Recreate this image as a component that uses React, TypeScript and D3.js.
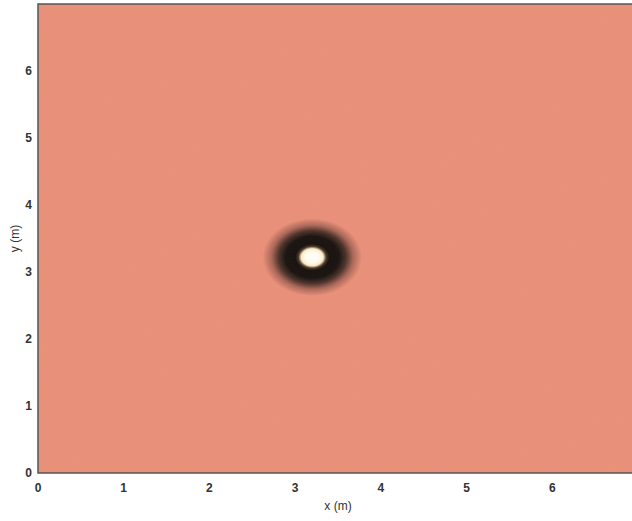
import React from "react";
import * as d3 from "d3";

// Axis domains and tick labels
const xDomain = [0, 7];
const yDomain = [0, 7];
const xTicks = [0, 1, 2, 3, 4, 5, 6];
const yTicks = [0, 1, 2, 3, 4, 5, 6];

// Source (bright spot) centre in metres
const sourceX = [3.2];
const sourceY = [3.22];
// Outer radius of the disturbance (m), and radial intensity profile
const outerRadius = 0.58;
const profileOffsets = [0, 0.14, 0.22, 0.28, 0.34, 0.54, 0.68, 0.82, 1];
const profileColors = ["#ffffff", "#fffdf0", "#fbeec8", "#4a3526", "#140f0b", "#17110d", "#4b3129", "#a96656", "#ea8f78"];

const background = "#ea8f78";

const W = 632, H = 521;
const margin = { left: 38, top: 4, right: -6, bottom: 48 };

export default function App() {
  const x = d3.scaleLinear().domain(xDomain).range([margin.left, W - margin.right]);
  const y = d3.scaleLinear().domain(yDomain).range([H - margin.bottom, margin.top]);
  const rx = x(outerRadius) - x(0);
  const ry = y(0) - y(outerRadius);
  const font = "'Liberation Sans', Arial, sans-serif";
  return (
    <svg width={W} height={H} style={{ position: "absolute", left: 0, top: 0, background: "#fff" }}>
      <defs>
        <radialGradient id="spot" cx="50%" cy="50%" r="50%">
          {profileOffsets.map((o, i) => (
            <stop key={i} offset={o} stopColor={profileColors[i]} />
          ))}
        </radialGradient>
        <clipPath id="plot">
          <rect x={x(xDomain[0])} y={y(yDomain[1])} width={x(xDomain[1]) - x(xDomain[0])} height={y(yDomain[0]) - y(yDomain[1])} />
        </clipPath>
        <filter id="grain" x="0" y="0" width="100%" height="100%">
          <feTurbulence type="fractalNoise" baseFrequency="0.9" numOctaves="2" seed="3" result="n" />
          <feColorMatrix type="matrix" values="0 0 0 0 0.6  0 0 0 0 0.45  0 0 0 0 0.45  0 0 0 0.07 0" />
        </filter>
      </defs>
      <g clipPath="url(#plot)">
        <rect x={x(xDomain[0])} y={y(yDomain[1])} width={x(xDomain[1]) - x(xDomain[0])} height={y(yDomain[0]) - y(yDomain[1])} fill={background} />
        {sourceX.map((sx, i) => (
          <ellipse key={i} cx={x(sx)} cy={y(sourceY[i])} rx={rx} ry={ry} fill="url(#spot)" />
        ))}
        <rect x={x(xDomain[0])} y={y(yDomain[1])} width={x(xDomain[1]) - x(xDomain[0])} height={y(yDomain[0]) - y(yDomain[1])} filter="url(#grain)" />
      </g>
      <rect x={x(xDomain[0])} y={y(yDomain[1])} width={x(xDomain[1]) - x(xDomain[0])} height={y(yDomain[0]) - y(yDomain[1])} fill="none" stroke="#555" strokeWidth={1.5} />
      {xTicks.map((t) => (
        <text key={"x" + t} x={x(t)} y={y(0) + 19} textAnchor="middle" fontFamily={font} fontSize={12} fontWeight="bold" fill="#333">{t}</text>
      ))}
      {yTicks.map((t) => (
        <text key={"y" + t} x={x(0) - 6} y={y(t) + 4} textAnchor="end" fontFamily={font} fontSize={12} fontWeight="bold" fill="#333">{t}</text>
      ))}
      <text x={338} y={510} textAnchor="middle" fontFamily={font} fontSize={12} fill="#333">x (m)</text>
      <text transform={`translate(19, ${y(3.5)}) rotate(-90)`} textAnchor="middle" fontFamily={font} fontSize={12} fill="#333">y (m)</text>
    </svg>
  );
}
